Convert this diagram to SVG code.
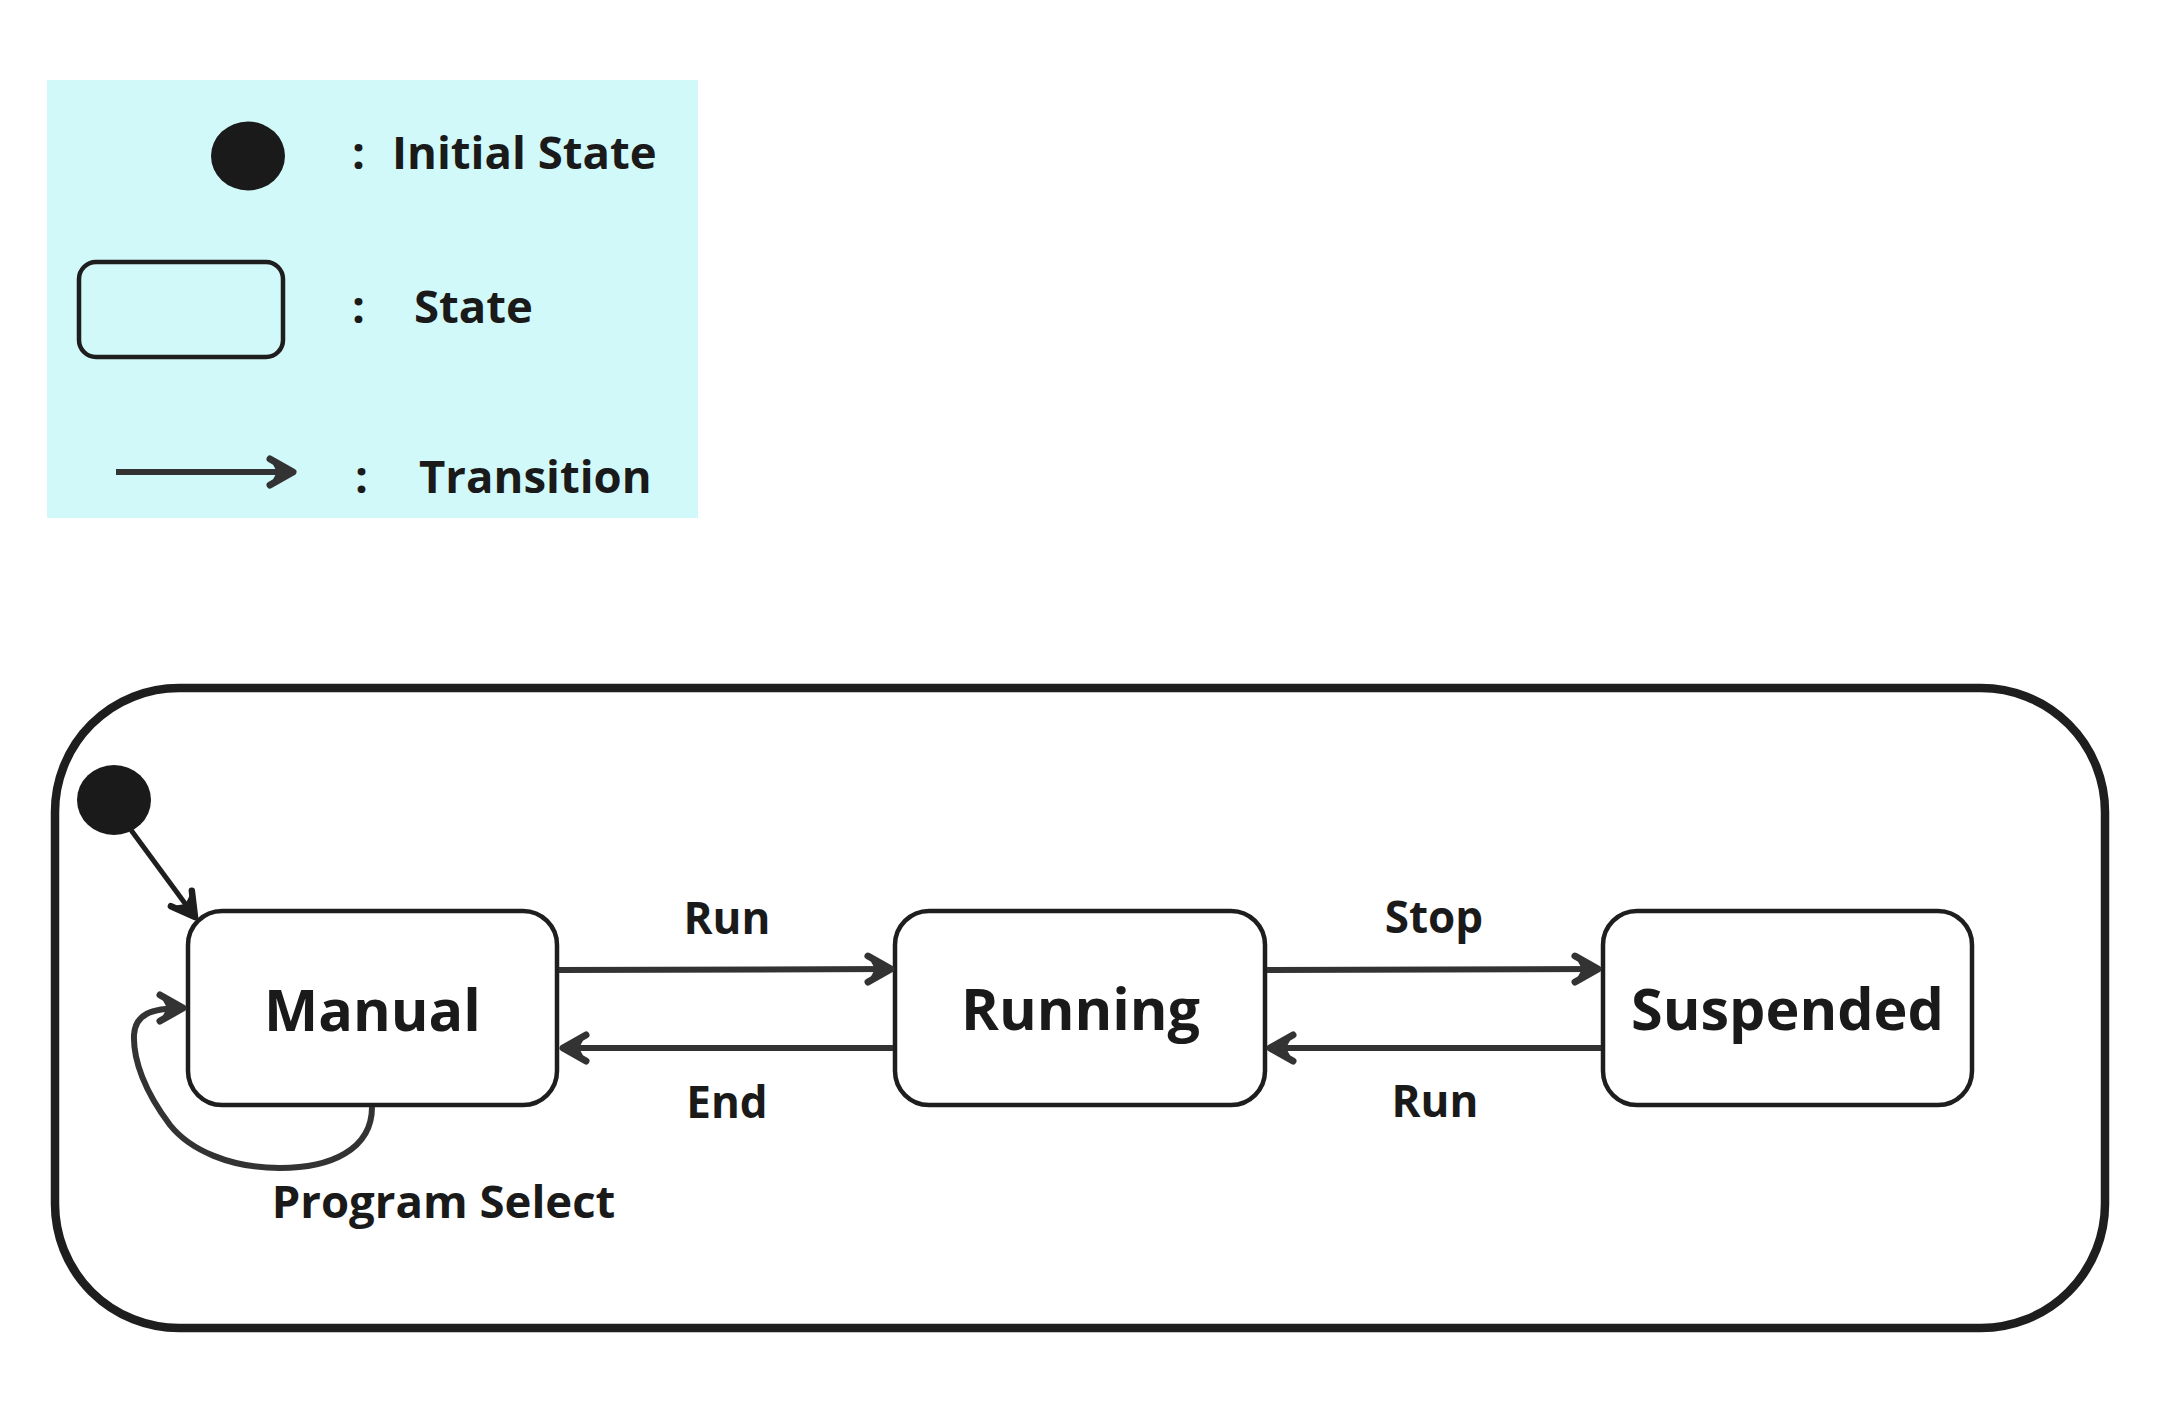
<svg xmlns="http://www.w3.org/2000/svg" width="2158" height="1418" viewBox="0 0 2158 1418">
<style>
  .t { font-family: "Open Sans", "Noto Sans", "Liberation Sans", sans-serif; font-weight: 700; fill: #1a1a1a; }
  .legend { font-size: 45.5px; }
  .node-label { font-size: 57.5px; text-anchor: middle; }
  .edge-label { font-size: 44px; text-anchor: middle; }
  .state { fill: #ffffff; stroke: #1e1e1e; stroke-width: 4.5; }
  .conn { fill: none; stroke: #333333; stroke-width: 6; }
  .init { fill: #1a1a1a; }
</style>
<defs>
  <marker id="arrow" markerUnits="userSpaceOnUse" viewBox="-32 -20 36 40" refX="0" refY="0" markerWidth="36" markerHeight="40" orient="auto" overflow="visible">
    <path d="M -23 -13 L -16 0 L -23 13 L 0 0 Z" fill="#333333"/>
    <path d="M -23 -13 L 0 0 L -23 13" fill="none" stroke="#333333" stroke-width="7" stroke-linecap="round" stroke-linejoin="round"/>
  </marker>
  <marker id="arrowDark" markerUnits="userSpaceOnUse" viewBox="-32 -20 36 40" refX="0" refY="0" markerWidth="36" markerHeight="40" orient="auto" overflow="visible">
    <path d="M -23 -13 L -16 0 L -23 13 L 0 0 Z" fill="#1e1e1e"/>
    <path d="M -23 -13 L 0 0 L -23 13" fill="none" stroke="#1e1e1e" stroke-width="6.5" stroke-linecap="round" stroke-linejoin="round"/>
  </marker>
</defs>
<rect x="0" y="0" width="2158" height="1418" fill="#ffffff"/>

<g id="legend">
  <rect x="47" y="80" width="651" height="438" fill="#d2f9f9"/>
  <ellipse cx="248" cy="156" rx="37" ry="34.5" class="init"/>
  <text class="t legend" x="352" y="169">:</text>
  <text class="t legend" x="392" y="169">Initial State</text>
  <rect x="79" y="262" width="204" height="95" rx="17" ry="17" fill="none" stroke="#1e1e1e" stroke-width="4.5"/>
  <text class="t legend" x="352" y="323">:</text>
  <text class="t legend" x="414" y="323">State</text>
  <line x1="116" y1="472" x2="293" y2="472" class="conn" marker-end="url(#arrow)"/>
  <text class="t legend" x="355" y="493">:</text>
  <text class="t legend" x="419" y="493">Transition</text>
</g>

<g id="frame">
  <rect x="55" y="688" width="2050" height="640" rx="124" ry="124" fill="none" stroke="#1e1e1e" stroke-width="8.5"/>
</g>

<g id="initial">
  <ellipse cx="114" cy="800" rx="37" ry="35" class="init"/>
</g>

<g id="manual">
  <rect x="188" y="911" width="369" height="194" rx="34" ry="34" class="state"/>
  <text class="t node-label" x="372.5" y="1031">Manual</text>
</g>

<g id="running">
  <rect x="895" y="911" width="370" height="194" rx="34" ry="34" class="state"/>
  <text class="t node-label" x="1080.5" y="1030">Running</text>
</g>

<g id="suspended">
  <rect x="1603" y="911" width="369" height="194" rx="34" ry="34" class="state"/>
  <text class="t node-label" x="1787.5" y="1030">Suspended</text>
</g>

<g id="connectors">
  <line x1="131" y1="830" x2="195" y2="917" fill="none" stroke="#1e1e1e" stroke-width="5" marker-end="url(#arrowDark)"/>
  <line x1="559" y1="970" x2="891" y2="969" class="conn" marker-end="url(#arrow)"/>
  <line x1="893" y1="1048" x2="563" y2="1048" class="conn" marker-end="url(#arrow)"/>
  <line x1="1267" y1="970" x2="1598" y2="969" class="conn" marker-end="url(#arrow)"/>
  <line x1="1601" y1="1048" x2="1270" y2="1048" class="conn" marker-end="url(#arrow)"/>
  <path d="M 372 1107 C 372 1150, 330 1168, 280 1168 C 230 1168, 190 1150, 170 1125 C 145 1092, 133 1060, 134 1035 C 135 1015, 150 1008, 183 1008" class="conn" stroke-width="5.5" marker-end="url(#arrow)"/>
  <text class="t edge-label" x="727" y="934">Run</text>
  <text class="t edge-label" x="727" y="1118">End</text>
  <text class="t edge-label" x="1434" y="933">Stop</text>
  <text class="t edge-label" x="1435" y="1117">Run</text>
  <text class="t edge-label" x="443.5" y="1218" style="font-size:45.5px">Program Select</text>
</g>
</svg>
